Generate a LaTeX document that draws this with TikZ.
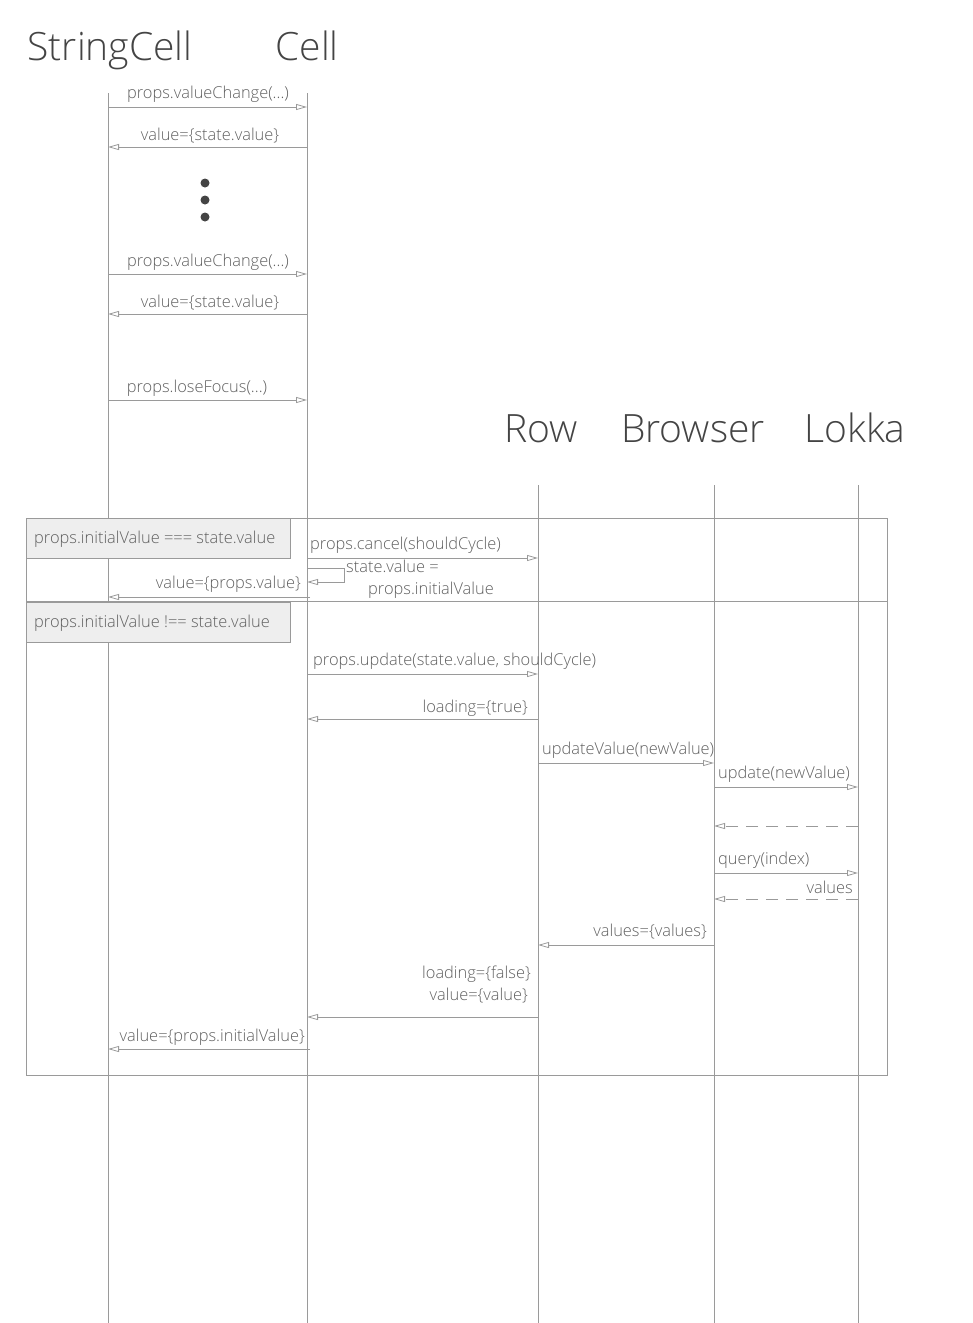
\documentclass[tikz,border=0pt]{standalone}
\usepackage{fontspec}
\setmainfont{Open Sans}[UprightFont=* Light]
\usetikzlibrary{arrows.meta}
\definecolor{ln}{HTML}{9A9A9A}
\definecolor{tx}{HTML}{606060}
\definecolor{tt}{HTML}{444444}
\definecolor{bx}{HTML}{EEEEEE}
\begin{document}
\begin{tikzpicture}[x=1pt,y=-1pt,
  life/.style={draw=ln,line width=0.8pt},
  msg/.style={draw=ln,line width=0.8pt,-{Triangle[open,length=11pt,width=6pt]}},
  ret/.style={msg,dash pattern=on 12pt off 8pt},
  lbl/.style={text=tx,font=\fontsize{16.4}{19}\selectfont,inner sep=0pt},
  ttl/.style={text=tt,font=\fontsize{39}{44}\selectfont,inner sep=0pt,anchor=base},
  cond/.style={draw=ln,fill=bx,line width=0.8pt,minimum width=264pt,minimum height=40pt,anchor=north west,inner sep=0pt},
  frame/.style={draw=ln,line width=0.8pt},
  dot/.style={fill=tt,draw=none,circle,minimum size=9pt,inner sep=0pt}
]
\useasboundingbox (0,0) rectangle (973,1323);
% titles
\node[ttl] (tsc) at (110,60) {StringCell};
\node[ttl] (tc) at (307,60) {Cell};
\node[ttl] (trow) at (541,442) {Row};
\node[ttl] (tbr) at (693,442) {Browser};
\node[ttl] (tlk) at (855,442) {Lokka};
% lifelines
\coordinate (scT) at (108,93);  \coordinate (scB) at (108,1323);
\coordinate (cT) at (307,93);   \coordinate (cB) at (307,1323);
\coordinate (rT) at (538,485);  \coordinate (rB) at (538,1323);
\coordinate (bT) at (714,485);  \coordinate (bB) at (714,1323);
\coordinate (lT) at (858,485);  \coordinate (lB) at (858,1323);
\draw[life] (scT) -- (scB);
\draw[life] (cT) -- (cB);
\draw[life] (rT) -- (rB);
\draw[life] (bT) -- (bB);
\draw[life] (lT) -- (lB);
% first part
\draw[msg] (scT |- 0,107) -- (cT |- 0,107);
\node[lbl,anchor=base] (m1) at (208,98) {props.valueChange(...)};
\draw[msg] (cT |- 0,147) -- (scT |- 0,147);
\node[lbl,anchor=base] (m2) at (210,140) {value=\{state.value\}};
\node[dot] (d1) at (205,183) {};
\node[dot] (d2) at (205,200) {};
\node[dot] (d3) at (205,217) {};
\draw[msg] (scT |- 0,274) -- (cT |- 0,274);
\node[lbl,anchor=base] (m3) at (208,266) {props.valueChange(...)};
\draw[msg] (cT |- 0,314) -- (scT |- 0,314);
\node[lbl,anchor=base] (m4) at (210,307) {value=\{state.value\}};
\draw[msg] (scT |- 0,400) -- (cT |- 0,400);
\node[lbl,anchor=base] (m5) at (197,392) {props.loseFocus(...)};
% alt frame
\draw[frame] (26,518) rectangle (887,1075);
\draw[frame] (26,601) -- (887,601);
\node[cond] (c1) at (26,518) {};
\node[lbl,anchor=base west] (c1t) at (34,543) {props.initialValue === state.value};
\node[cond] (c2) at (26,602) {};
\node[lbl,anchor=base west] (c2t) at (34,627) {props.initialValue !== state.value};
% alt 1
\draw[msg] (cT |- 0,558) -- (rT |- 0,558);
\node[lbl,anchor=base west] (a1) at (310,549) {props.cancel(shouldCycle)};
\coordinate (s1) at (344,568);
\coordinate (s2) at (344,582);
\draw[msg] (cT |- s1) -- (s1) -- (s2) -- (cT |- s2);
\node[lbl,anchor=base west] (a2) at (346,572) {state.value =};
\node[lbl,anchor=base west] (a3) at (368,594) {props.initialValue};
\draw[msg] (310,597) -- (scT |- 0,597);
\node[lbl,anchor=base east] (a4) at (301,588) {value=\{props.value\}};
% alt 2
\draw[msg] (cT |- 0,674) -- (rT |- 0,674);
\node[lbl,anchor=base west] (b1) at (313,665) {props.update(state.value, shouldCycle)};
\draw[msg] (rT |- 0,719) -- (cT |- 0,719);
\node[lbl,anchor=base east] (b2) at (528,712) {loading=\{true\}};
\draw[msg] (rT |- 0,763) -- (bT |- 0,763);
\node[lbl,anchor=base west] (b3) at (542,754) {updateValue(newValue)};
\draw[msg] (bT |- 0,787) -- (lT |- 0,787);
\node[lbl,anchor=base west] (b4) at (718,778) {update(newValue)};
\draw[ret] (lT |- 0,826) -- (bT |- 0,826);
\draw[msg] (bT |- 0,873) -- (lT |- 0,873);
\node[lbl,anchor=base west] (b5) at (718,864) {query(index)};
\draw[ret] (lT |- 0,899) -- (bT |- 0,899);
\node[lbl,anchor=base east] (b6) at (853,893) {values};
\draw[msg] (bT |- 0,945) -- (rT |- 0,945);
\node[lbl,anchor=base east] (b7) at (707,936) {values=\{values\}};
\draw[msg] (rT |- 0,1017) -- (cT |- 0,1017);
\node[lbl,anchor=base east] (b8) at (531,978) {loading=\{false\}};
\node[lbl,anchor=base east] (b9) at (528,1000) {value=\{value\}};
\draw[msg] (310,1049) -- (scT |- 0,1049);
\node[lbl,anchor=base east] (b10) at (305,1041) {value=\{props.initialValue\}};
\end{tikzpicture}
\end{document}
